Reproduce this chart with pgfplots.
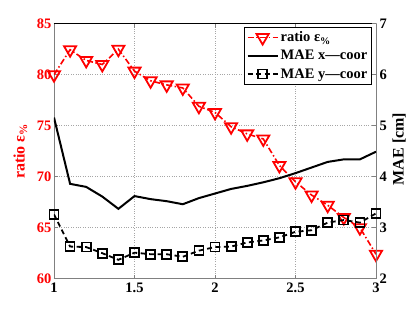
\documentclass[border=0pt]{standalone}
\usepackage{fontspec}
\setmainfont{Liberation Serif}
\usepackage{pgfplots}
\pgfplotsset{compat=1.18}
\definecolor{axgray}{gray}{0.5}
\begin{document}
\begin{tikzpicture}
\pgfplotsset{
  every axis/.append style={
    scale only axis, width=322pt, height=255pt,
    xmin=1, xmax=3,
    font=\fontsize{14.5}{16}\selectfont\bfseries,
    /pgf/number format/assume math mode=true,
    axis line style={axgray, line width=0.8pt},
    tick style={axgray, line width=0.6pt},
    major tick length=4pt,
    tick align=inside,
  }
}
\begin{axis}[
  ymin=60, ymax=85,
  ytick={60,65,...,85},
  xtick={1,1.5,2,2.5,3},
  axis y line*=left,
  xtick pos=both,
  grid=major,
  major grid style={dotted, gray!70, line width=0.6pt},
  yticklabel style={red, xshift=1pt},
  xticklabel style={yshift=-1pt},
  ylabel={ratio ε\textsubscript{\%}},
  ylabel style={red, font=\fontsize{16}{18}\selectfont\bfseries, at={(axis description cs:-0.072,0.5)}, anchor=south},
]
\coordinate (bl) at (rel axis cs:0,0);
\coordinate (tr) at (rel axis cs:1,1);
\draw[black, line width=0.8pt] (rel axis cs:0,1) -- (rel axis cs:1,1);
\addplot[red, line width=1.6pt, dash pattern=on 6pt off 2.5pt on 1.5pt off 2.5pt,
  mark=triangle, mark size=7pt, mark options={solid, rotate=180, line width=1.8pt}]
  coordinates {(1,80.0)(1.1,82.45)(1.2,81.4)(1.3,81.0)(1.4,82.5)(1.5,80.35)(1.6,79.4)(1.7,79.0)(1.8,78.7)(1.9,76.9)(2.0,76.3)(2.1,74.9)(2.2,74.2)(2.3,73.7)(2.4,71.1)(2.5,69.5)(2.6,68.2)(2.7,67.2)(2.8,66.0)(2.9,65.0)(3.0,62.4)};
\end{axis}
\begin{axis}[
  ymin=2, ymax=7,
  ytick={2,3,...,7},
  axis x line=none,
  axis y line*=right,
  ylabel={MAE [cm]},
  ylabel style={font=\fontsize{16}{18}\selectfont\bfseries, at={(axis description cs:1.040,0.509)}, anchor=north},
  legend style={at={(rel axis cs:0.9876,0.987)}, anchor=north east, draw=black,
    line width=0.6pt, font=\fontsize{14.5}{16}\selectfont\bfseries, inner sep=2.5pt,
    row sep=3pt},
  legend cell align=left,
  legend image code/.code={\draw[mark repeat=2,mark phase=2,#1] plot coordinates {(0pt,0pt) (15pt,0pt) (30pt,0pt)};},
]
\addlegendimage{red, line width=1.6pt, dash pattern=on 6pt off 2.5pt on 1.5pt off 2.5pt,
  mark=triangle, mark size=7pt, mark options={solid, rotate=180, line width=1.8pt}}
\addlegendentry{ratio ε\textsubscript{\%}}
\addplot[black, line width=2pt, no marks]
  coordinates {(1,5.16)(1.1,3.86)(1.2,3.80)(1.3,3.61)(1.4,3.37)(1.5,3.62)(1.6,3.56)(1.7,3.52)(1.8,3.46)(1.9,3.58)(2.0,3.67)(2.1,3.76)(2.2,3.82)(2.3,3.89)(2.4,3.97)(2.5,4.07)(2.6,4.18)(2.7,4.29)(2.8,4.34)(2.9,4.34)(3.0,4.49)};
\addlegendentry{MAE x—coor}
\addplot[black, line width=1.8pt, dash pattern=on 5pt off 3.5pt,
  mark=square, mark size=4.5pt, mark options={solid, line width=1.8pt}]
  coordinates {(1,3.26)(1.1,2.63)(1.2,2.62)(1.3,2.50)(1.4,2.37)(1.5,2.51)(1.6,2.48)(1.7,2.48)(1.8,2.43)(1.9,2.55)(2.0,2.62)(2.1,2.63)(2.2,2.71)(2.3,2.75)(2.4,2.81)(2.5,2.92)(2.6,2.95)(2.7,3.10)(2.8,3.15)(2.9,3.10)(3.0,3.28)};
\addlegendentry{MAE y—coor}
\end{axis}
\pgfresetboundingbox
\path ([shift={(-54pt,-34.3pt)}]bl) rectangle ([shift={(39pt,23.7pt)}]tr);
\end{tikzpicture}
\end{document}
